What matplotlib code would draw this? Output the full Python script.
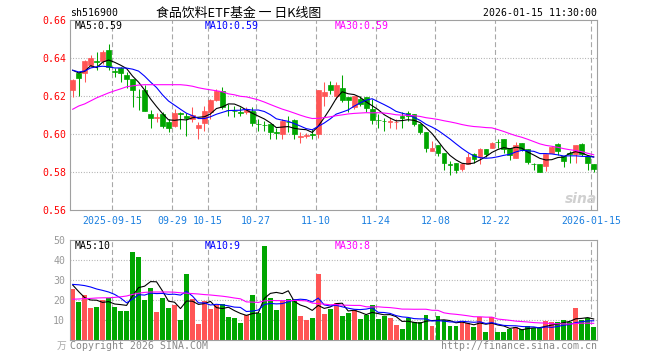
import matplotlib
matplotlib.use("Agg")
import matplotlib.pyplot as plt
import numpy as np
import pandas as pd

W, H = 660, 360

# --- data (88 trading days, 2025-09-08 .. 2026-01-15) ---
opens = [.6233, .6322, .6322, .6366, .6387, .6387, .6440, .6334, .6348, .6309,
         .6288, .6196, .6230, .6106, .6085, .6106, .6062, .6044, .6111, .6097,
         .6080, .6030, .6058, .6115, .6177, .6226, .6129, .6124, .6117, .6115,
         .6124, .6053, .6048, .6053, .6009, .6000, .6065, .6074, .5984, .5991,
         .6000, .6000, .6200, .6256, .6201, .6244, .6198, .6142, .6186, .6198,
         .6133, .6076, .6071, .6065, .6062, .6097, .6111, .6106, .6053, .6009,
         .5911, .5941, .5899, .5841, .5846, .5818, .5841, .5898, .5882, .5920,
         .5929, .5959, .5973, .5929, .5877, .5952, .5920, .5845, .5841, .5832,
         .5899, .5947, .5885, .5899, .5898, .5947, .5885, .5841]
closes = [.6286, .6297, .6387, .6398, .6380, .6430, .6354, .6327, .6322, .6292,
          .6230, .6195, .6124, .6085, .6092, .6044, .6032, .6111, .6104, .6083,
          .6101, .6046, .6124, .6177, .6226, .6142, .6127, .6120, .6113, .6133,
          .6057, .6051, .6046, .6012, .6007, .6071, .6064, .6000, .5988, .5995,
          .5998, .6230, .6221, .6230, .6257, .6177, .6177, .6200, .6159, .6136,
          .6076, .6074, .6069, .6067, .6064, .6083, .6097, .6053, .6009, .5929,
          .5929, .5899, .5846, .5839, .5811, .5841, .5880, .5871, .5920, .5898,
          .5952, .5957, .5920, .5889, .5941, .5924, .5855, .5843, .5802, .5898,
          .5932, .5911, .5858, .5898, .5941, .5898, .5846, .5818]
highs = [.6290, .6324, .6388, .6414, .6430, .6440, .6472, .6348, .6355, .6327,
         .6292, .6238, .6256, .6129, .6111, .6117, .6080, .6133, .6115, .6111,
         .6142, .6062, .6150, .6186, .6238, .6247, .6159, .6150, .6142, .6142,
         .6142, .6080, .6071, .6053, .6035, .6080, .6097, .6080, .6009, .6005,
         .6026, .6230, .6274, .6277, .6274, .6309, .6198, .6203, .6200, .6198,
         .6186, .6106, .6083, .6088, .6080, .6115, .6124, .6106, .6053, .6009,
         .5964, .5941, .5899, .5858, .5846, .5850, .5903, .5903, .5929, .5920,
         .5959, .5973, .5973, .5929, .5959, .5952, .5920, .5850, .5841, .5898,
         .5938, .5956, .5885, .5911, .5941, .5952, .5885, .5841]
lows = [.6196, .6203, .6274, .6355, .6336, .6371, .6336, .6301, .6274, .6244,
        .6142, .6129, .6122, .6030, .6062, .6030, .6009, .6037, .6026, .5988,
        .6062, .5977, .6018, .6080, .6176, .6133, .6097, .6088, .6097, .6106,
        .6044, .6018, .6018, .5973, .5973, .5973, .6009, .5973, .5952, .5982,
        .5973, .5982, .6150, .6212, .6186, .6168, .6115, .6133, .6150, .6115,
        .6053, .6035, .6018, .6035, .6026, .6035, .6071, .6044, .6000, .5906,
        .5911, .5885, .5814, .5788, .5797, .5805, .5841, .5850, .5841, .5882,
        .5929, .5929, .5903, .5864, .5877, .5911, .5841, .5814, .5800, .5805,
        .5899, .5889, .5829, .5850, .5850, .5885, .5814, .5800]
volumes = [25.5, 19, 22.5, 16, 16.5, 20, 21, 16.5, 14.5, 14.5,
           44, 41.5, 20, 26, 14, 21, 16, 17.5, 10, 33,
           20.5, 8, 19.5, 15.5, 17.5, 18, 11.5, 11, 8.5, 12.5,
           22.5, 13.5, 47, 21, 15, 19.5, 20.5, 20.5, 12, 10,
           11, 33, 13, 15.5, 18.5, 12, 13.5, 15, 10.5, 12.5,
           17.5, 10.5, 12, 11, 7.5, 5.5, 11, 9, 9, 12.5,
           7, 12, 10, 7, 7, 9, 8.5, 6.5, 11.5, 4,
           11.5, 4, 4, 5.5, 6.5, 5.5, 7, 6, 6, 9.5,
           9, 9, 10, 9, 16, 10, 11, 6.5]

# moving-average values before the window is full
ma5_head = [.6336, .6322, .6330, .6360]
ma10_head = [.6336, .6327, .6332, .6348, .6354, .6357, .6354, .6348, .6348]
ma30_head = [.6131, .6148, .6159, .6175, .6191, .6204, .6217, .6228, .6238, .6249,
             .6254, .6258, .6260, .6260, .6260, .6260, .6260, .6260, .6260, .6257,
             .6252, .6244, .6238, .6233, .6228, .6223, .6212, .6207, .6199]
vma5_head = [27.5, 24.2, 21.2, 20.0]
vma10_head = [27.8, 27.6, 27.2, 26.5, 25.5, 24.8, 24.0, 22.8, 21.0]
vma30_head = [20.4, 20.5, 20.7, 20.8, 21.0, 21.1, 21.1, 21.3, 21.6, 22.0,
              22.8, 23.4, 23.8, 24.0, 24.0, 24.0, 24.0, 23.9, 23.6, 23.4,
              23.2, 23.0, 22.7, 22.5, 22.2, 21.9, 21.5, 21.0, 20.6]

tick_labels = ["2025-09-15", "09-29", "10-15", "10-27", "11-10",
               "11-24", "12-08", "12-22", "2026-01-15"]
tick_index = [7, 17, 23, 31, 41, 51, 61, 71, 87]
price_ticks = [0.56, 0.58, 0.60, 0.62, 0.64, 0.66]
vol_ticks = [10, 20, 30, 40, 50]

RED = "#ff5555"
GREEN = "#00a600"
GRID = "#a8a8a8"
FRAME = "#a0a0a0"
MONO = "DejaVu Sans Mono"
CJK = ["Noto Sans CJK SC", "DejaVu Sans"]


def moving(values, n, head):
    s = pd.Series(values).rolling(n).mean()
    s.iloc[:len(head)] = head
    return s.values


def px(x, y):
    return x / W, 1 - y / H


x = np.arange(len(closes))
o = np.array(opens); c = np.array(closes)
colors = [RED if cc >= oo else GREEN for oo, cc in zip(opens, closes)]
gx = np.array(tick_index) - 0.42

fig = plt.figure(figsize=(W / 100, H / 100), dpi=100)
ax = fig.add_axes([70 / W, 1 - 210.3 / H, 527 / W, 190.3 / H])
axv = fig.add_axes([70 / W, 1 - 340 / H, 527 / W, 100 / H])

for a in (ax, axv):
    a.set_xlim(-0.45, len(closes) - 0.45)
    for s in a.spines.values():
        s.set_color(FRAME)
        s.set_linewidth(0.8)
    for g in gx:
        a.axvline(g, color=GRID, lw=0.8, dashes=(4.5, 2.5), zorder=0)
    a.tick_params(length=0)

# price panel
for t in price_ticks[1:-1]:
    ax.axhline(t, color=GRID, lw=0.8, dashes=(0.8, 1.6), zorder=0)
ax.vlines(x, lows, highs, color=colors, lw=0.75, zorder=2)
ax.bar(x, np.abs(c - o), bottom=np.minimum(o, c), width=0.8, color=colors,
       edgecolor=colors, linewidth=0.5, zorder=3)
ax.plot(x, moving(closes, 5, ma5_head), color="black", lw=0.8, zorder=4)
ax.plot(x, moving(closes, 10, ma10_head), color="#0000ff", lw=0.8, zorder=4)
ax.plot(x, moving(closes, 30, ma30_head), color="#ff00ff", lw=0.8, zorder=4)
ax.set_ylim(0.56, 0.66)
ax.set_yticks(price_ticks)
ax.set_yticklabels([f"{t:.2f}" for t in price_ticks], color="#ff0000",
                   fontfamily=MONO, fontsize=7.1)
ax.set_xticks(gx)
ax.set_xticklabels(tick_labels, color="#1a7fe0", fontfamily=MONO, fontsize=7.1)
ax.tick_params(axis="y", pad=2.5)
ax.tick_params(axis="x", pad=4)

# volume panel
for t in vol_ticks[:-1]:
    axv.axhline(t, color=GRID, lw=0.8, dashes=(0.8, 1.6), zorder=0)
axv.bar(x, volumes, width=0.82, color=colors, zorder=2)
axv.plot(x, moving(volumes, 5, vma5_head), color="black", lw=0.8, zorder=4)
axv.plot(x, moving(volumes, 10, vma10_head), color="#0000ff", lw=0.8, zorder=4)
axv.plot(x, moving(volumes, 30, vma30_head), color="#ff00ff", lw=0.8, zorder=4)
axv.set_ylim(0, 50)
axv.set_yticks(vol_ticks)
axv.set_yticklabels([str(t) for t in vol_ticks], color="#999999",
                    fontfamily=MONO, fontsize=7.1)
axv.tick_params(axis="y", pad=3.5)
axv.set_xticks([])

# header / legend texts
fig.text(*px(70, 13.5), "sh516900", fontfamily=MONO, fontsize=7.1, va="center")
fig.text(*px(238.5, 13.5), "食品饮料ETF基金 一 日K线图", family=CJK,
         fontsize=9.3, ha="center", va="center")
fig.text(*px(597, 13.5), "2026-01-15 11:30:00", fontfamily=MONO, fontsize=7.1,
         ha="right", va="center")
for xx, txt, col in [(75, "MA5:0.59", "black"), (205, "MA10:0.59", "#0000ff"),
                     (335, "MA30:0.59", "#ff00ff")]:
    fig.text(*px(xx, 26), txt, color=col, fontfamily=MONO, fontsize=7.1, va="center")
for xx, txt, col in [(75, "MA5:10", "black"), (205, "MA10:9", "#0000ff"),
                     (335, "MA30:8", "#ff00ff")]:
    fig.text(*px(xx, 246), txt, color=col, fontfamily=MONO, fontsize=7.1, va="center")
fig.text(*px(66, 346), "万", family=CJK, color="#aaaaaa", fontsize=7, ha="right", va="center")
fig.text(*px(70, 346), "Copyright 2026 SINA.COM", color="#888888", fontfamily=MONO,
         fontsize=7.1, va="center")
fig.text(*px(597, 346), "http://finance.sina.com.cn", color="#888888", fontfamily=MONO,
         fontsize=7.1, ha="right", va="center")
fig.text(*px(581, 199), "sina", color="#d0d0d0", fontsize=10, fontweight="bold",
         fontstyle="italic", ha="center", va="center")

fig.savefig("out.png", dpi=100)
